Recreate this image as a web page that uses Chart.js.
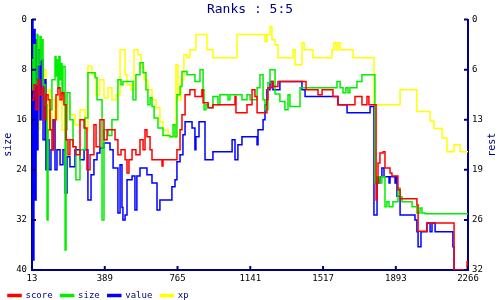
<!DOCTYPE html>
<html>
<head>
    <title>Ranks : 5:5</title>
    <script src="https://cdn.jsdelivr.net/npm/chart.js@4.4.0/dist/chart.umd.min.js"></script>
    <style>
        body { margin: 0; background: #fff; }
        #box { width: 500px; height: 300px; }
    </style>
</head>
<body>
    <div id="box"><canvas id="ranksChart"></canvas></div>

    <script>
        // [x, value] pairs, value changes at x (step lines)
        const score = [[13,12.8],[23,10.4],[34,14.4],[44,9.6],[54,12],[65,10.9],[75,16],[85,12],[96,12.8],[106,17.6],[116,20.8],[127,16],[137,12],[147,10.9],[158,12.8],[168,11.7],[178,13.6],[189,19.2],[199,21.6],[209,19.2],[225,20.3],[240,21.6],[261,16],[282,17.3],[297,24],[313,21.6],[333,16.8],[344,20.3],[364,16],[385,19.2],[401,17.6],[442,19.2],[457,21.6],[473,20.8],[494,22.4],[504,24.5],[514,22.4],[530,20.8],[550,21.6],[571,19.2],[587,20.8],[597,17.6],[607,18.7],[623,20.8],[633,22.4],[685,23.4],[690,22.4],[762,20.8],[778,17.6],[788,15.2],[804,12],[829,11.2],[855,12.3],[891,11.2],[897,13.3],[923,14.1],[948,13.6],[1062,12.3],[1067,14.9],[1124,13.6],[1150,11.2],[1165,12.3],[1176,14.9],[1227,12.8],[1232,10.9],[1253,9.9],[1258,10.7],[1284,9.9],[1429,11.2],[1491,12],[1512,11.2],[1568,12.3],[1594,13.6],[1682,12.3],[1718,13.6],[1744,12.3],[1754,13.6],[1791,28.8],[1796,26.1],[1801,22.9],[1811,21.3],[1827,21.1],[1837,23.7],[1863,24.5],[1873,25],[1904,27.2],[1915,28.6],[2002,29.6],[2008,33.8],[2054,32.5],[2194,40],[2261,38.7],[2266,38.7]];

        const size = [[13,6.4],[18,11.2],[23,4],[29,10.4],[39,2.4],[44,7.2],[54,2.7],[60,6.4],[65,3.2],[70,10.4],[80,13.6],[91,32],[96,17.6],[106,14.4],[116,9.6],[127,9.6],[132,5.9],[137,9],[142,6.4],[147,11],[152,5.9],[158,9.6],[163,7],[168,12],[173,7.5],[184,36.8],[189,17.6],[194,11.7],[209,16],[225,20.3],[240,25.6],[261,20.8],[287,15.7],[302,8.5],[339,9.3],[349,12.8],[375,32],[385,17.6],[406,18.5],[426,16],[457,9.6],[473,10.4],[483,9.9],[535,12.8],[550,8.8],[571,6.9],[587,8.5],[602,11.2],[612,13.6],[623,12.5],[633,13.9],[644,15.7],[664,17.3],[690,18.5],[726,18.7],[742,16.8],[752,18.7],[762,12],[778,10.7],[788,8.3],[814,8.8],[855,9.9],[881,8],[897,11.2],[902,14.4],[912,13.6],[923,14.1],[948,12.3],[974,13.6],[984,12],[1026,12.8],[1036,12],[1098,12.8],[1124,12],[1140,12.8],[1176,10.9],[1191,8.8],[1207,12.8],[1217,14.4],[1232,10.1],[1243,8],[1269,11.9],[1294,13.1],[1320,14.4],[1336,12],[1346,13.9],[1398,10.9],[1589,9.9],[1605,10.9],[1620,11.7],[1635,10.9],[1646,11.7],[1656,10.9],[1692,9.9],[1718,8.8],[1785,26.1],[1796,25.1],[1811,26.1],[1821,25.1],[1837,29.9],[1847,29.1],[1858,29.9],[1878,29.1],[1904,26.9],[1915,28.3],[1925,29.1],[1977,29.9],[2002,30.9],[2018,30.1],[2028,30.9],[2044,31],[2266,31]];

        const value = [[13,0],[18,38.4],[23,1.6],[29,28.8],[34,3.2],[39,20.8],[44,4.8],[54,16],[60,6.4],[70,19.2],[80,9.6],[85,24],[91,19.2],[101,24],[111,20.8],[122,16],[132,24],[142,20.8],[158,23.2],[173,20.8],[184,27.7],[194,21.9],[209,23.5],[235,20.8],[261,22.4],[282,20.8],[302,28.8],[318,24.8],[333,22.4],[349,21.3],[364,20.5],[385,19.7],[416,20.8],[432,23.7],[457,30.9],[468,23.2],[478,30],[483,32],[494,31.2],[504,25.6],[530,25],[545,30.4],[555,25],[571,23.7],[607,24.8],[633,26.1],[659,30.4],[674,28.8],[736,26.7],[752,25.6],[762,22.7],[778,21.6],[793,18.4],[804,16.3],[840,17.3],[855,20.8],[860,18.7],[876,16.3],[907,22.4],[948,21.1],[1047,19.2],[1062,22.4],[1077,20],[1098,18.7],[1176,20],[1181,17.6],[1207,16],[1217,13.6],[1227,11.2],[1243,9.9],[1258,11.2],[1294,9.9],[1408,11.2],[1424,12.3],[1594,13.6],[1641,14.9],[1760,13.9],[1780,31.2],[1796,25.1],[1806,26.1],[1811,25.1],[1821,23.7],[1832,25.1],[1858,26.1],[1863,25.1],[1889,26.1],[1894,25.1],[1899,28.2],[1915,31.2],[1992,32],[2002,33.9],[2008,36.3],[2023,33.9],[2054,32.5],[2070,33.9],[2080,32.5],[2096,33.9],[2188,36.3],[2194,40],[2266,40]];

        const xp = [[13,12.8],[23,19.2],[34,6.4],[44,17.6],[54,3.2],[65,16],[75,8],[85,19.2],[96,11.2],[106,17.6],[116,12.8],[132,16],[147,12],[168,17.6],[184,13.6],[209,15.2],[235,16.8],[261,14.4],[287,17.6],[302,7.4],[323,8.8],[344,12],[364,9.6],[385,12.5],[406,10.9],[426,12.8],[447,12],[468,4.8],[494,8.8],[504,10.4],[525,11.2],[540,4.8],[561,5.6],[576,7.7],[592,9.6],[612,11.2],[633,12.8],[654,14.1],[674,16.3],[690,17.6],[716,18.7],[757,7.2],[767,12.8],[783,9.6],[798,5.6],[814,6.1],[829,4.8],[860,2.4],[917,4.8],[948,6.1],[1072,2.4],[1217,3.5],[1227,2.4],[1243,1.1],[1253,3.2],[1269,4],[1284,6.1],[1362,4.8],[1372,7.2],[1408,3.7],[1419,4.8],[1465,6.1],[1563,4.8],[1573,3.7],[1584,4.8],[1594,3.7],[1605,4.8],[1672,6.1],[1780,13.6],[1915,11.2],[2002,14.7],[2070,16.2],[2090,17.4],[2132,18.9],[2157,21.1],[2194,20],[2225,21.1],[2266,21.1]];

        const xTicks = [13, 389, 765, 1141, 1517, 1893, 2266];
        const restTicks = [0, 6.4, 12.8, 19.2, 25.6, 32];

        const navy = '#000080';
        const mono = 'DejaVu Sans Mono';

        const toPoints = arr => arr.map(p => ({ x: p[0], y: p[1] }));

        function series(label, arr, color) {
            return {
                label: label,
                data: toPoints(arr),
                borderColor: color,
                backgroundColor: color,
                borderWidth: 1.5,
                pointRadius: 0,
                stepped: true,
                yAxisID: 'y'
            };
        }

        // short tick marks pointing into the plot, plus the right axis title
        const innerTicks = {
            id: 'innerTicks',
            afterDraw(chart) {
                const ctx = chart.ctx;
                const a = chart.chartArea;
                const sx = chart.scales.x, sy = chart.scales.y, sr = chart.scales.rest;
                ctx.save();
                ctx.strokeStyle = navy;
                ctx.lineWidth = 2;
                ctx.beginPath();
                sx.ticks.forEach(t => {
                    const p = sx.getPixelForValue(t.value);
                    ctx.moveTo(p, a.bottom); ctx.lineTo(p, a.bottom - 4);
                });
                sy.ticks.forEach(t => {
                    const p = sy.getPixelForValue(t.value);
                    ctx.moveTo(a.left, p); ctx.lineTo(a.left + 4, p);
                });
                sr.ticks.forEach(t => {
                    const p = sr.getPixelForValue(t.value);
                    ctx.moveTo(a.right, p); ctx.lineTo(a.right - 4, p);
                });
                ctx.stroke();

                ctx.fillStyle = navy;
                ctx.font = '10px "' + mono + '"';
                ctx.textAlign = 'center';
                ctx.textBaseline = 'middle';
                ctx.translate(sr.right - 8, (a.top + a.bottom) / 2);
                ctx.rotate(-Math.PI / 2);
                ctx.fillText('rest', 0, 0);
                ctx.restore();
            }
        };

        new Chart(document.getElementById('ranksChart'), {
            type: 'line',
            data: {
                datasets: [
                    series('score', score, '#ff0000'),
                    series('size', size, '#00ee00'),
                    series('value', value, '#0000ff'),
                    series('xp', xp, '#ffff00')
                ]
            },
            options: {
                responsive: true,
                maintainAspectRatio: false,
                animation: false,
                layout: { padding: { top: 0, left: 0, right: 0, bottom: -10 } },
                plugins: {
                    title: {
                        display: true,
                        text: 'Ranks : 5:5',
                        color: navy,
                        font: { family: mono, size: 13, weight: 'normal' },
                        padding: { top: 2, bottom: 2 }
                    },
                    legend: {
                        position: 'bottom',
                        align: 'start',
                        labels: {
                            boxWidth: 13,
                            boxHeight: 2,
                            padding: 8,
                            color: navy,
                            font: { family: mono, size: 9 }
                        }
                    },
                    tooltip: { enabled: false }
                },
                scales: {
                    x: {
                        type: 'linear',
                        min: 13,
                        max: 2266,
                        afterBuildTicks: s => { s.ticks = xTicks.map(v => ({ value: v })); },
                        afterFit: s => { s.height = 13; },
                        grid: { display: false, drawTicks: false },
                        border: { display: true, color: navy, width: 2 },
                        ticks: {
                            padding: 3,
                            maxRotation: 0,
                            color: '#000',
                            font: { family: mono, size: 9 },
                            callback: v => String(v)
                        }
                    },
                    y: {
                        position: 'left',
                        min: 0,
                        max: 40,
                        reverse: true,
                        afterFit: s => { s.width = 32; },
                        grid: { display: false, drawTicks: false },
                        border: { display: true, color: navy, width: 2 },
                        title: {
                            display: true,
                            text: 'size',
                            color: navy,
                            font: { family: mono, size: 10 },
                            padding: { top: 2, bottom: 0 }
                        },
                        ticks: {
                            stepSize: 8,
                            padding: 5,
                            color: '#000',
                            font: { family: mono, size: 9 }
                        }
                    },
                    rest: {
                        position: 'right',
                        min: 0,
                        max: 32,
                        reverse: true,
                        afterBuildTicks: s => { s.ticks = restTicks.map(v => ({ value: v })); },
                        afterFit: s => { s.width = 32; },
                        grid: { display: false, drawTicks: false },
                        border: { display: true, color: navy, width: 2 },
                        ticks: {
                            padding: 4,
                            color: '#000',
                            font: { family: mono, size: 9 },
                            callback: v => String(Math.round(v))
                        }
                    }
                }
            },
            plugins: [innerTicks]
        });
    </script>
</body>
</html>
